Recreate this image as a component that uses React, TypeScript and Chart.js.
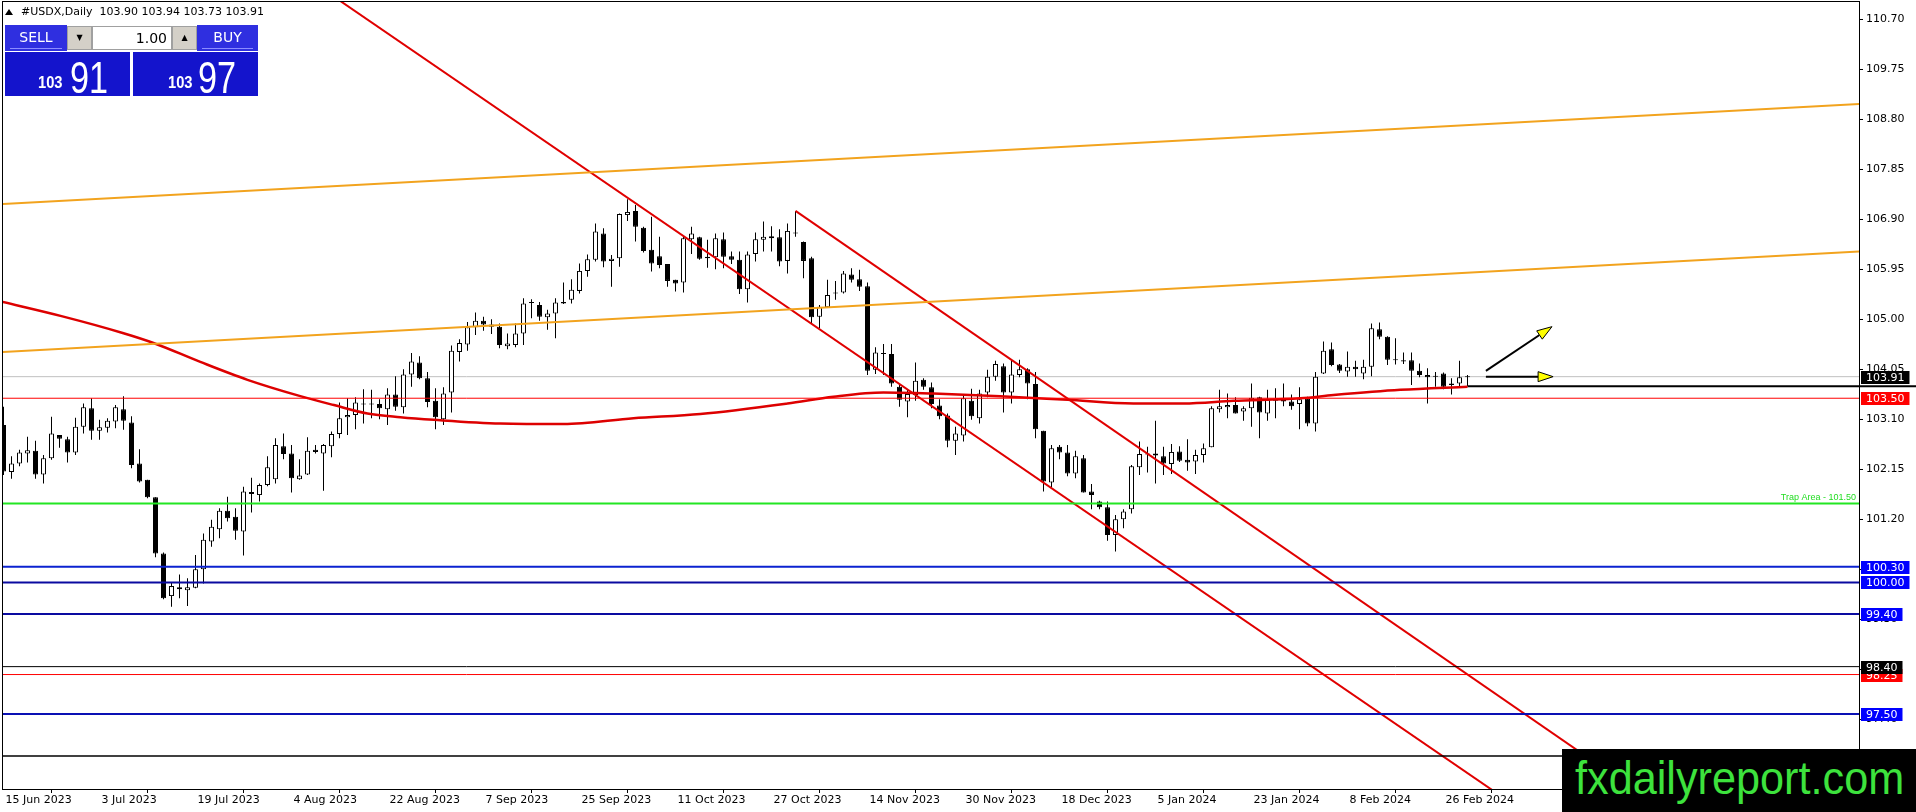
import React, { useEffect, useRef } from 'react';
import { Chart, registerables } from 'chart.js';

Chart.register(...registerables);

// ---------- data ----------
const symbolTitle = '#USDX,Daily';

const opens = [
  102.99,102.10,102.26,102.45,102.50,102.05,102.36,102.80,102.72,102.47,
  102.96,103.31,102.88,102.94,103.06,103.29,103.04,102.26,101.95,101.62,
  100.55,99.74,99.91,99.85,99.90,100.25,100.78,101.01,101.36,101.25,
  100.97,101.72,101.66,101.85,101.96,102.59,102.45,101.96,102.05,102.52,
  102.45,102.59,102.82,103.14,103.18,103.39,103.38,103.39,103.29,103.57,
  103.33,103.95,104.18,103.88,103.45,103.10,103.61,104.38,104.52,104.85,
  104.97,104.90,104.86,104.49,104.51,104.73,105.31,105.27,105.04,105.11,
  105.30,105.37,105.54,105.92,106.13,106.63,106.11,106.16,106.98,107.06,
  106.74,106.32,106.20,106.05,105.75,105.70,106.52,106.56,106.19,106.18,
  106.52,106.20,106.13,105.57,106.24,106.51,106.58,106.56,106.11,106.63,
  106.47,106.16,105.05,105.23,105.49,105.51,105.85,105.76,105.63,104.04,
  104.34,104.34,103.72,103.44,103.56,103.85,103.71,103.36,103.17,102.69,
  102.79,103.45,103.12,103.61,103.91,104.11,103.61,103.94,104.05,103.77,
  102.88,101.90,102.58,102.47,102.07,102.36,101.73,101.54,101.43,100.90,
  101.20,101.39,102.19,102.43,102.45,102.40,102.25,102.49,102.33,102.30,
  102.42,102.57,103.29,103.33,103.37,103.25,103.31,103.52,103.21,103.45,
  103.47,103.44,103.39,103.50,103.02,103.97,104.43,104.14,104.01,104.10,
  103.97,104.10,104.81,104.67,104.24,104.22,104.22,104.02,103.94,103.91,
  103.97,103.78,103.78,103.90,
];
const highs = [
  103.34,102.40,102.52,102.77,102.69,102.42,103.15,102.80,102.77,103.13,
  103.40,103.50,103.09,103.12,103.37,103.54,103.16,102.53,101.95,101.62,
  100.57,100.01,100.15,100.08,100.52,100.93,101.19,101.41,101.63,101.41,
  101.82,101.99,101.88,102.40,102.74,102.83,102.61,102.34,102.76,102.61,
  102.63,102.87,103.42,103.50,103.52,103.67,103.66,103.48,103.69,103.92,
  104.05,104.36,104.30,104.00,103.69,103.71,104.50,104.62,104.95,105.13,
  105.05,105.00,104.92,104.73,104.92,105.40,105.38,105.33,105.18,105.40,
  105.70,105.76,106.06,106.23,106.82,106.73,106.22,107.01,107.28,107.17,
  106.76,106.95,106.57,106.05,105.75,106.57,106.76,106.57,106.51,106.63,
  106.65,106.29,106.29,106.29,106.65,106.86,106.77,106.71,106.82,107.06,
  106.48,106.19,105.27,105.75,105.73,105.92,105.97,105.94,105.70,104.47,
  104.53,104.53,103.77,103.66,104.18,103.88,103.80,103.48,103.21,102.96,
  103.56,103.68,103.66,104.04,104.21,104.16,104.24,104.23,104.07,104.00,
  102.88,102.61,102.61,102.61,102.50,102.42,101.87,101.55,101.54,101.28,
  101.39,102.23,102.68,102.58,103.07,102.58,102.63,102.59,102.72,102.52,
  102.64,103.35,103.66,103.59,103.52,103.35,103.78,103.53,103.66,103.69,
  103.78,103.57,103.71,103.53,104.00,104.58,104.56,104.15,104.39,104.21,
  104.23,104.92,104.94,104.68,104.64,104.37,104.37,104.16,104.07,104.00,
  103.99,103.88,104.21,103.94,
];
const lows = [
  102.04,101.97,102.21,102.28,101.97,101.88,102.33,102.56,102.28,102.42,
  102.83,102.71,102.71,102.85,102.93,102.90,102.17,101.90,101.60,100.48,
  99.68,99.54,99.70,99.55,99.89,99.98,100.68,100.84,101.16,100.81,
  100.51,101.33,101.54,101.83,101.88,102.34,101.71,101.95,102.04,102.45,
  101.74,102.38,102.74,102.80,102.91,103.02,103.12,103.10,102.99,103.26,
  103.21,103.72,103.86,103.33,102.91,102.99,103.23,104.20,104.40,104.70,
  104.78,104.72,104.45,104.43,104.47,104.51,105.02,104.97,104.80,104.64,
  105.29,105.30,105.49,105.81,106.10,105.99,105.62,106.00,106.87,106.48,
  106.27,105.91,105.97,105.62,105.53,105.51,106.24,106.13,105.98,105.95,
  105.97,106.05,105.48,105.32,106.10,106.29,106.29,106.01,105.87,106.57,
  105.78,104.92,104.83,105.23,105.37,105.49,105.70,105.54,103.94,103.96,
  103.94,103.72,103.34,103.14,103.45,103.66,103.31,103.10,102.57,102.42,
  102.68,103.09,103.02,103.52,103.83,103.23,103.40,103.90,103.48,102.74,
  101.73,101.81,102.34,102.02,101.98,101.71,101.39,101.39,100.79,100.59,
  101.03,101.31,102.04,102.09,101.88,102.04,102.06,102.29,102.12,102.06,
  102.28,102.57,103.23,103.12,103.21,103.07,102.96,102.74,103.07,103.12,
  103.35,103.28,102.91,102.97,102.87,103.96,104.11,103.98,103.91,103.91,
  103.86,103.92,104.62,104.13,104.14,104.15,103.75,103.90,103.40,103.72,
  103.67,103.57,103.73,103.73,
];
const closes = [
  102.11,102.26,102.47,102.51,102.05,102.36,102.83,102.73,102.47,102.96,
  103.33,102.88,102.95,103.07,103.33,103.07,102.23,101.92,101.62,100.55,
  99.70,99.93,99.87,99.91,100.25,100.81,101.06,101.36,101.22,100.98,
  101.73,101.68,101.85,102.19,102.61,102.44,101.98,102.03,102.50,102.48,
  102.61,102.82,103.12,103.18,103.42,103.38,103.39,103.31,103.57,103.34,
  103.95,104.20,103.88,103.43,103.14,103.59,104.40,104.55,104.85,104.97,
  104.90,104.86,104.51,104.54,104.73,105.30,105.32,105.05,105.11,105.32,
  105.33,105.56,105.92,106.14,106.67,106.10,106.15,107.00,107.04,106.76,
  106.30,106.06,106.03,105.73,105.68,106.54,106.63,106.15,106.16,106.54,
  106.19,106.13,105.57,106.23,106.52,106.57,106.54,106.10,106.68,106.64,
  106.11,105.04,105.24,105.46,105.50,105.87,105.75,105.62,104.02,104.37,
  104.35,103.78,103.47,103.58,103.83,103.72,103.39,103.16,102.69,102.83,
  103.50,103.16,103.59,103.91,104.15,103.61,103.95,104.05,103.78,102.91,
  101.92,102.55,102.47,102.07,102.40,101.71,101.66,101.43,100.90,101.20,
  101.35,102.21,102.44,102.45,102.41,102.26,102.48,102.31,102.28,102.42,
  102.55,103.31,103.35,103.37,103.21,103.31,103.51,103.23,103.47,103.45,
  103.44,103.35,103.48,103.02,103.91,104.40,104.13,104.02,104.10,104.05,
  104.10,104.83,104.67,104.23,104.22,104.20,104.02,103.94,103.90,103.91,
  103.72,103.75,103.90,103.91,
];

const dateTickBars = [0, 12, 24, 36, 48, 60, 72, 84, 96, 108, 120, 132, 144, 156, 168, 180];
const dateTickLabels = [
  '15 Jun 2023', '3 Jul 2023', '19 Jul 2023', '4 Aug 2023', '22 Aug 2023', '7 Sep 2023',
  '25 Sep 2023', '11 Oct 2023', '27 Oct 2023', '14 Nov 2023', '30 Nov 2023', '18 Dec 2023',
  '5 Jan 2024', '23 Jan 2024', '8 Feb 2024', '26 Feb 2024',
];
const priceTicks = [110.70, 109.75, 108.80, 107.85, 106.90, 105.95, 105.00, 104.05, 103.10, 102.15, 101.20, 100.25, 99.30, 98.35, 97.40, 96.45];

// moving average curve
const maBars = [-0.4, 7.25, 14.9, 18.75, 24.6, 30.5, 37.1, 41.3, 45.5, 49.6, 53.8, 62.1, 70, 78.75, 87.1, 98, 103.75, 110, 116.25, 124.6, 133, 141.25, 147.5, 153.75, 162.1, 166.25, 174.6, 183];
const maValues = [105.34, 105.06, 104.74, 104.55, 104.19, 103.85, 103.54, 103.37, 103.21, 103.14, 103.09, 103.02, 103.01, 103.12, 103.20, 103.40, 103.53, 103.61, 103.59, 103.54, 103.47, 103.40, 103.40, 103.45, 103.50, 103.56, 103.66, 103.72];

// horizontal levels
const levelPrices = [103.50, 101.50, 100.30, 100.00, 99.40, 98.40, 98.25, 97.50, 96.70];
const levelColors = ['#ff0000', '#22e622', '#0b22d0', '#0a0aa0', '#0a0aa0', '#000000', '#ff0000', '#0a10b4', '#000000'];
const levelWidths = [1, 2, 2, 2, 2, 1, 1, 2, 1.5];
const bidPrice = 103.91;
const lowLinePrice = 103.73;

// trend lines
const trendFromBar = [-0.1, -0.1, 41.89, 99];
const trendFromPrice = [107.19, 104.38, 111.07, 107.06];
const trendToBar = [232, 232, 190.08, 212];
const trendToPrice = [109.09, 106.29, 95.64, 95.21];
const trendColors = ['#f2a31e', '#f2a31e', '#e00000', '#e00000'];

// arrows
const arrowFromBar = [185.3, 185.3];
const arrowFromPrice = [104.02, 103.91];
const arrowToBar = [193.56, 193.7];
const arrowToPrice = [104.86, 103.91];

// right axis price tags (drawn in this order)
const tagPrices = [103.50, 103.91, 100.00, 100.30, 99.40, 98.25, 98.40, 97.50];
const tagColors = ['#ff0000', '#000000', '#0000ff', '#0000ff', '#0000ff', '#ff0000', '#000000', '#0000ff'];

const trapPrice = 101.50;
const trapText = 'Trap Area - 101.50';

// axis ranges
const xMin = -0.0625;
const xMax = 231.9375;
const yMin = 96.075;
const yMax = 111.029;

const FONT = '"DejaVu Sans", "Liberation Sans", sans-serif';

function drawArrow(ctx: CanvasRenderingContext2D, x1: number, y1: number, x2: number, y2: number) {
  const dx = x2 - x1, dy = y2 - y1;
  const len = Math.hypot(dx, dy) || 1;
  const ux = dx / len, uy = dy / len;
  const hl = 15, hw = 5;
  const bx = x2 - ux * hl, by = y2 - uy * hl;
  ctx.strokeStyle = '#000';
  ctx.lineWidth = 2;
  ctx.beginPath();
  ctx.moveTo(x1, y1);
  ctx.lineTo(bx, by);
  ctx.stroke();
  ctx.beginPath();
  ctx.moveTo(x2, y2);
  ctx.lineTo(bx - uy * hw, by + ux * hw);
  ctx.lineTo(bx + uy * hw, by - ux * hw);
  ctx.closePath();
  ctx.fillStyle = '#ffff00';
  ctx.fill();
  ctx.lineWidth = 1;
  ctx.stroke();
}

const overlayPlugin = {
  id: 'mt4Overlay',
  afterDraw(chart: any) {
    const { ctx, chartArea, scales } = chart;
    const xs = scales.x, ys = scales.y;
    ctx.save();
    // frame
    ctx.strokeStyle = '#000';
    ctx.lineWidth = 1;
    ctx.strokeRect(chartArea.left - 0.5, chartArea.top - 0.5, chartArea.right - chartArea.left + 1, chartArea.bottom - chartArea.top + 1);
    // trap text
    ctx.font = '9px "Liberation Sans", sans-serif';
    ctx.fillStyle = '#22dd22';
    ctx.textAlign = 'right';
    ctx.textBaseline = 'alphabetic';
    ctx.fillText(trapText, chartArea.right - 3, ys.getPixelForValue(trapPrice) - 3);
    // arrows
    for (let i = 0; i < arrowFromBar.length; i++) {
      drawArrow(ctx,
        xs.getPixelForValue(arrowFromBar[i]), ys.getPixelForValue(arrowFromPrice[i]),
        xs.getPixelForValue(arrowToBar[i]), ys.getPixelForValue(arrowToPrice[i]));
    }
    // price tags on the right axis
    ctx.font = '11px ' + FONT;
    ctx.textAlign = 'left';
    ctx.textBaseline = 'middle';
    for (let i = 0; i < tagPrices.length; i++) {
      const txt = tagPrices[i].toFixed(2);
      const py = Math.round(ys.getPixelForValue(tagPrices[i]));
      const tw = ctx.measureText(txt).width;
      ctx.fillStyle = tagColors[i];
      ctx.fillRect(chartArea.right + 2, py - 6, tw + 10, 13);
      ctx.fillStyle = '#ffffff';
      ctx.fillText(txt, chartArea.right + 7, py + 1);
    }
    ctx.restore();
  },
};

export default function App() {
  const canvasRef = useRef<HTMLCanvasElement | null>(null);

  useEffect(() => {
    const canvas = canvasRef.current;
    if (!canvas) return;
    const idx = opens.map((_, i) => i);
    const wickData = idx.map((i) => ({ x: i, y: [lows[i], highs[i]] }));
    const bodyData = idx.map((i) => ({ x: i, y: [Math.min(opens[i], closes[i]), Math.max(opens[i], closes[i])] }));
    const bodyColors = idx.map((i) => (closes[i] >= opens[i] ? '#ffffff' : '#000000'));

    const lineDs = (data: any[], color: string, width: number, extra: any = {}) => ({
      type: 'line',
      data,
      borderColor: color,
      borderWidth: width,
      pointRadius: 0,
      fill: false,
      tension: 0,
      order: 0,
      ...extra,
    });

    const datasets: any[] = [];
    // bid line (under candles)
    datasets.push(lineDs([{ x: xMin - 1, y: bidPrice }, { x: xMax + 1, y: bidPrice }], '#c0c0c0', 1, { order: 3 }));
    datasets.push({
      type: 'bar',
      data: wickData,
      backgroundColor: '#000000',
      borderWidth: 0,
      barThickness: 1,
      grouped: false,
      inflateAmount: 0,
      order: 2,
    });
    datasets.push({
      type: 'bar',
      data: bodyData,
      backgroundColor: bodyColors,
      borderColor: '#000000',
      borderWidth: 1,
      borderSkipped: false,
      barThickness: 5,
      minBarLength: 1,
      grouped: false,
      inflateAmount: 0,
      order: 1,
    });
    levelPrices.forEach((p, i) => {
      datasets.push(lineDs([{ x: xMin - 1, y: p }, { x: xMax + 1, y: p }], levelColors[i], levelWidths[i]));
    });
    trendFromBar.forEach((b, i) => {
      datasets.push(lineDs([{ x: b, y: trendFromPrice[i] }, { x: trendToBar[i], y: trendToPrice[i] }], trendColors[i], 2));
    });
    datasets.push(lineDs(maBars.map((b, i) => ({ x: b, y: maValues[i] })), '#dd0000', 2.5, { cubicInterpolationMode: 'monotone' }));
    datasets.push(lineDs([{ x: opens.length - 1, y: lowLinePrice }, { x: 240, y: lowLinePrice }], '#000000', 2, { clip: false }));

    const chart = new Chart(canvas, {
      type: 'bar',
      data: { datasets },
      options: {
        responsive: false,
        animation: false,
        devicePixelRatio: 1,
        events: [],
        layout: { padding: { left: 3, top: 2, right: 0, bottom: 0 } },
        plugins: { legend: { display: false }, tooltip: { enabled: false } },
        scales: {
          x: {
            type: 'linear',
            position: 'bottom',
            min: xMin,
            max: xMax,
            offset: false,
            grid: { display: true, drawOnChartArea: false, drawTicks: true, tickLength: 4, color: '#000' },
            border: { display: true, color: '#000' },
            ticks: {
              autoSkip: false,
              maxRotation: 0,
              minRotation: 0,
              align: 'start',
              labelOffset: 2,
              padding: 1,
              color: '#000',
              font: { family: FONT, size: 11 },
              callback: (v: any) => {
                const k = dateTickBars.indexOf(Number(v));
                return k >= 0 ? dateTickLabels[k] : '';
              },
            },
            afterBuildTicks: (s: any) => {
              s.ticks = dateTickBars.map((v) => ({ value: v }));
            },
            afterFit: (s: any) => {
              s.height = 23;
              s.paddingLeft = 0;
              s.paddingRight = 0;
            },
          },
          y: {
            type: 'linear',
            position: 'right',
            min: yMin,
            max: yMax,
            grid: { display: true, drawOnChartArea: false, drawTicks: true, tickLength: 4, color: '#000' },
            border: { display: true, color: '#000' },
            ticks: {
              autoSkip: false,
              padding: 3,
              color: '#000',
              font: { family: FONT, size: 11 },
              callback: (v: any) => Number(v).toFixed(2),
            },
            afterBuildTicks: (s: any) => {
              s.ticks = priceTicks.map((v) => ({ value: v }));
            },
            afterFit: (s: any) => {
              s.width = 57;
              s.paddingTop = 0;
              s.paddingBottom = 0;
            },
          },
        },
      } as any,
      plugins: [overlayPlugin],
    } as any);
    return () => chart.destroy();
  }, []);

  const last = opens.length - 1;
  const headerText = `${symbolTitle}  ${opens[last].toFixed(2)} ${highs[last].toFixed(2)} ${lows[last].toFixed(2)} ${closes[last].toFixed(2)}`;
  const topBlue = '#2f2fe0';
  const bigBlue = '#1414cc';
  const grey = '#d4d0c8';
  const abs: React.CSSProperties = { position: 'absolute', boxSizing: 'border-box' };
  const bigDigits: React.CSSProperties = { ...abs, top: 55, font: `45px "Liberation Sans", sans-serif`, lineHeight: '45px', color: '#fff', transform: 'scaleX(0.76)', transformOrigin: 'left center', whiteSpace: 'nowrap' };
  const smallDigits: React.CSSProperties = { ...abs, top: 75, font: `bold 16px "Liberation Sans", sans-serif`, lineHeight: '16px', color: '#fff', transform: 'scaleX(0.92)', transformOrigin: 'left center' };

  return (
    <div style={{ position: 'fixed', left: 0, top: 0, width: 1916, height: 812, background: '#fff', overflow: 'hidden' }}>
      <canvas ref={canvasRef} width={1916} height={812} style={{ position: 'absolute', left: 0, top: 0, width: 1916, height: 812 }} />
      {/* header */}
      <div style={{ ...abs, left: 5, top: 9, width: 0, height: 0, borderLeft: '4px solid transparent', borderRight: '4px solid transparent', borderBottom: '6px solid #000' }} />
      <div style={{ ...abs, left: 21, top: 5, font: `11px ${FONT}`, lineHeight: '14px', color: '#000', whiteSpace: 'pre' }}>{headerText}</div>
      {/* trade panel */}
      <div style={{ ...abs, left: 5, top: 25, width: 62, height: 26, background: topBlue, color: '#fff', font: `14px ${FONT}`, lineHeight: '24px', textAlign: 'center' }}>
        SELL
        <div style={{ ...abs, left: 5, top: 23, width: 52, height: 1, background: '#8c8cff' }} />
      </div>
      <div style={{ ...abs, left: 67, top: 26, width: 25, height: 24, background: grey, border: '1px solid #a0a0a0', font: `8px ${FONT}`, lineHeight: '22px', textAlign: 'center', color: '#000' }}>▼</div>
      <div style={{ ...abs, left: 92, top: 26, width: 80, height: 24, background: '#fff', border: '1px solid #a0a0a0', font: `14px ${FONT}`, lineHeight: '22px', textAlign: 'right', paddingRight: 4, color: '#000' }}>1.00</div>
      <div style={{ ...abs, left: 172, top: 26, width: 25, height: 24, background: grey, border: '1px solid #a0a0a0', font: `8px ${FONT}`, lineHeight: '22px', textAlign: 'center', color: '#000' }}>▲</div>
      <div style={{ ...abs, left: 197, top: 25, width: 61, height: 26, background: topBlue, color: '#fff', font: `14px ${FONT}`, lineHeight: '24px', textAlign: 'center' }}>
        BUY
        <div style={{ ...abs, left: 5, top: 23, width: 51, height: 1, background: '#8c8cff' }} />
      </div>
      <div style={{ ...abs, left: 5, top: 52, width: 125, height: 44, background: bigBlue }} />
      <div style={{ ...abs, left: 133, top: 52, width: 125, height: 44, background: bigBlue }} />
      <div style={{ ...smallDigits, left: 38 }}>103</div>
      <div style={{ ...bigDigits, left: 70 }}>91</div>
      <div style={{ ...smallDigits, left: 168 }}>103</div>
      <div style={{ ...bigDigits, left: 198 }}>97</div>
      {/* watermark */}
      <div style={{ ...abs, left: 1562, top: 749, width: 354, height: 63, background: '#000' }}>
        <div style={{ position: 'absolute', left: 13, top: 5, font: `47px "Liberation Sans", sans-serif`, lineHeight: '47px', color: '#3de23d', transform: 'scaleX(0.92)', transformOrigin: 'left center', whiteSpace: 'nowrap' }}>fxdailyreport.com</div>
      </div>
    </div>
  );
}
